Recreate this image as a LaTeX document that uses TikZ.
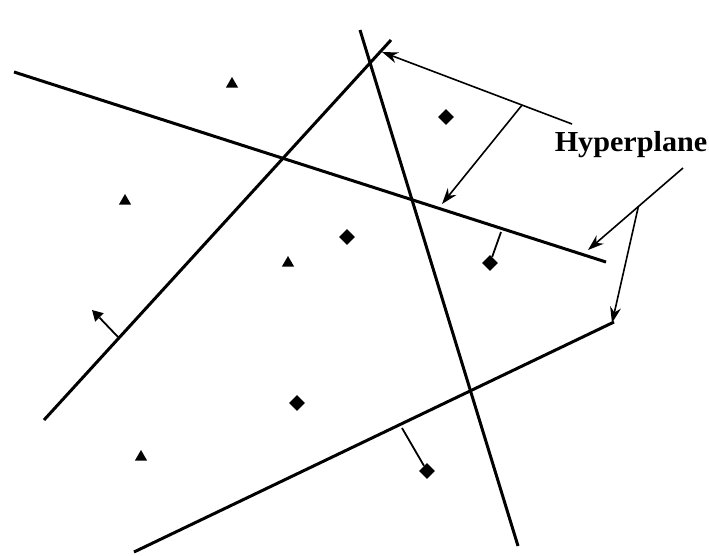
\documentclass[tikz,border=0pt]{standalone}
\usepackage{fontspec}
\setmainfont{Liberation Serif}
\usetikzlibrary{shapes.geometric,arrows.meta,calc}
\begin{document}
\begin{tikzpicture}[x=1pt,y=-1pt,
 plane/.style={line width=3pt},
 tickln/.style={line width=1.8pt},
 ptr/.style={line width=1.6pt,-{Stealth[length=16pt,width=11pt]}},
 tri/.style={regular polygon,regular polygon sides=3,fill=black,inner sep=0pt,minimum size=14pt},
 dia/.style={diamond,fill=black,inner sep=0pt,minimum size=16pt},
 lbl/.style={font=\bfseries\fontsize{29}{32}\selectfont,xscale=1.04,inner sep=0pt}]
\useasboundingbox (0,0) rectangle (709,555);
\fill[white] (0,0) rectangle (709,555);
% hyperplanes
\coordinate (A1) at (14,72);   \coordinate (A2) at (606,262);
\coordinate (B1) at (360,30);  \coordinate (B2) at (518,546);
\coordinate (C1) at (44,420);  \coordinate (C2) at (391,40);
\coordinate (D1) at (134,552); \coordinate (D2) at (614,322);
\draw[plane] (A1) -- (A2);
\draw[plane] (B1) -- (B2);
\draw[plane] (C1) -- (C2);
\draw[plane] (D1) -- (D2);
% free points
\node[tri] (t1) at (232,84) {};
\node[tri] (t2) at (125,201) {};
\node[tri] (t3) at (288,263) {};
\node[tri] (t4) at (141,457) {};
\node[dia] (d1) at (446,117) {};
\node[dia] (d2) at (347,237) {};
\node[dia] (d3) at (297,403) {};
% normals
\coordinate (nA) at (501,232);
\coordinate (nC) at (118,337);
\coordinate (nD) at (402,428);
\node[tri,rotate=45] (tC) at (97,315) {};
\node[dia] (dA) at (490,263) {};
\node[dia] (dD) at (427,471) {};
\draw[tickln] (nC) -- (tC);
\draw[tickln] (nA) -- (dA);
\draw[tickln] (nD) -- (dD);
% label and pointers
\node[lbl] (lab) at (631,145) {Hyperplane};
\coordinate (h1) at (572,124);
\coordinate (h2) at (683,168);
\coordinate (e1) at (382,52);
\coordinate (e2) at (442,204);
\coordinate (e3) at (588,250);
\coordinate (e4) at (612,323);
\coordinate (b1) at ($(h1)!0.263!(e1)$);
\coordinate (b2) at ($(h2)!0.47!(e3)$);
\draw[ptr] (h1) -- (e1);
\draw[ptr] (b1) -- (e2);
\draw[ptr] (h2) -- (e3);
\draw[ptr] (b2) -- (e4);
\end{tikzpicture}
\end{document}
